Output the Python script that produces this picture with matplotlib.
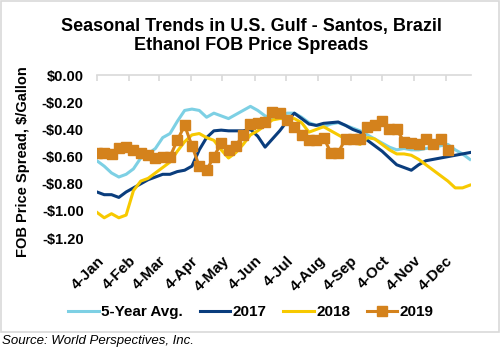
import numpy as np
import pandas as pd
import matplotlib
matplotlib.use('Agg')
import matplotlib.pyplot as plt
import matplotlib.dates as mdates
from matplotlib.ticker import FuncFormatter
from matplotlib.patches import Rectangle

plt.rcParams['font.family'] = ['Liberation Sans', 'DejaVu Sans']

# weekly dates, 4-Jan to 27-Dec
semanas = pd.date_range('2019-01-04', periods=52, freq='7D')

promedio_5 = [-0.63, -0.67, -0.72, -0.75, -0.73, -0.69, -0.61, -0.58, -0.54, -0.46,
              -0.43, -0.34, -0.26, -0.25, -0.26, -0.31, -0.28, -0.30, -0.32, -0.29,
              -0.26, -0.23, -0.26, -0.30, -0.32, -0.31, -0.28, -0.28, -0.31, -0.35,
              -0.37, -0.38, -0.36, -0.35, -0.37, -0.39, -0.41, -0.44, -0.47, -0.50,
              -0.53, -0.55, -0.54, -0.55, -0.55, -0.54, -0.53, -0.52, -0.51, -0.55,
              -0.58, -0.62]

datos_2017 = [-0.86, -0.88, -0.88, -0.90, -0.86, -0.83, -0.80, -0.77, -0.75, -0.73,
              -0.73, -0.71, -0.70, -0.67, -0.55, -0.46, -0.41, -0.405, -0.41, -0.41,
              -0.41, -0.40, -0.45, -0.53, -0.47, -0.41, -0.34, -0.28, -0.32, -0.36,
              -0.37, -0.355, -0.35, -0.345, -0.37, -0.40, -0.42, -0.48, -0.52, -0.56,
              -0.61, -0.66, -0.68, -0.70, -0.66, -0.63, -0.62, -0.61, -0.60, -0.59,
              -0.58, -0.57]

datos_2018 = [-1.01, -1.05, -1.02, -1.05, -1.03, -0.85, -0.78, -0.76, -0.72, -0.68,
              -0.64, -0.56, -0.49, -0.44, -0.43, -0.46, -0.48, -0.55, -0.61, -0.57,
              -0.51, -0.44, -0.41, -0.37, -0.33, -0.32, -0.32, -0.32, -0.35, -0.42,
              -0.40, -0.38, -0.41, -0.44, -0.47, -0.49, -0.51, -0.46, -0.47, -0.51,
              -0.55, -0.58, -0.58, -0.59, -0.62, -0.66, -0.70, -0.74, -0.78, -0.83,
              -0.83, -0.81]

datos_2019 = [-0.57, -0.57, -0.58, -0.54, -0.53, -0.55, -0.57, -0.59, -0.61, -0.60,
              -0.60, -0.48, -0.37, -0.52, -0.67, -0.70, -0.60, -0.50, -0.55, -0.52,
              -0.44, -0.36, -0.355, -0.345, -0.27, -0.28, -0.33, -0.38, -0.44, -0.48,
              -0.48, -0.46, -0.57, -0.57, -0.47, -0.47, -0.47, -0.38, -0.37, -0.34,
              -0.40, -0.40, -0.49, -0.50, -0.51, -0.47, -0.51, -0.47, -0.55]

fig = plt.figure(figsize=(5.02, 3.56), dpi=100)
ax = fig.add_axes([0.193, 0.331, 0.745, 0.458])

ax.plot(semanas, promedio_5, color='#7DD0E4', lw=2.2, label='5-Year Avg.')
ax.plot(semanas, datos_2017, color='#0A3D7D', lw=2.2, label='2017')
ax.plot(semanas, datos_2018, color='#F7C900', lw=2.2, label='2018')
ax.plot(semanas[:len(datos_2019)], datos_2019, color='#D4821C', lw=2.2,
        marker='s', markersize=7.5, label='2019')

ax.set_ylim(-1.2, 0)
ax.set_yticks(np.arange(-1.2, 0.01, 0.2))
ax.yaxis.set_major_formatter(FuncFormatter(lambda v, p: ('-$%.2f' % abs(v)) if v < -0.001 else '$0.00'))
ax.set_xlim(pd.Timestamp('2019-01-04'), pd.Timestamp('2019-12-28'))
ax.xaxis.set_major_locator(mdates.MonthLocator(bymonthday=4))
ax.xaxis.set_major_formatter(FuncFormatter(lambda v, p: '4-' + mdates.num2date(v).strftime('%b')))

for s in ['left', 'right', 'bottom']:
    ax.spines[s].set_visible(False)
ax.spines['top'].set_color('#D9D9D9')
ax.spines['top'].set_linewidth(1.2)

ax.tick_params(axis='x', top=True, bottom=False, labeltop=False, labelbottom=True,
               direction='in', length=4, color='#D9D9D9', width=1.2, pad=11)
ax.tick_params(axis='y', left=False, pad=6)
for t in ax.get_xticklabels():
    t.set_rotation(45)
    t.set_ha('right')
    t.set_rotation_mode('anchor')
    t.set_fontsize(11)
    t.set_fontweight('bold')
for t in ax.get_yticklabels():
    t.set_fontsize(10.5)
    t.set_fontweight('bold')

ax.set_ylabel('FOB Price Spread, $/Gallon', fontsize=10.5, fontweight='bold')
ax.yaxis.set_label_coords(-0.18, 0.47)

fig.text(0.5, 1 - 36 / 356, 'Seasonal Trends in U.S. Gulf - Santos, Brazil\nEthanol FOB Price Spreads',
         ha='center', va='center', fontsize=13, fontweight='bold', linespacing=1.1)

fig.legend(loc='center', bbox_to_anchor=(0.5, 1 - 312 / 356), ncol=4, frameon=False,
           prop={'size': 11, 'weight': 'bold'}, handlelength=2.0, handletextpad=0.15,
           columnspacing=1.1)

fig.patches.append(Rectangle((0.002, 1 - 332 / 356), 0.992, 332 / 356 - 0.004,
                             transform=fig.transFigure, fill=False, edgecolor='#D9D9D9', lw=1.2))

fig.text(0.004, 1 - 341 / 356, 'Source: World Perspectives, Inc.', fontsize=9.5,
         style='italic', va='center', ha='left')

fig.savefig('out.png', dpi=100)
